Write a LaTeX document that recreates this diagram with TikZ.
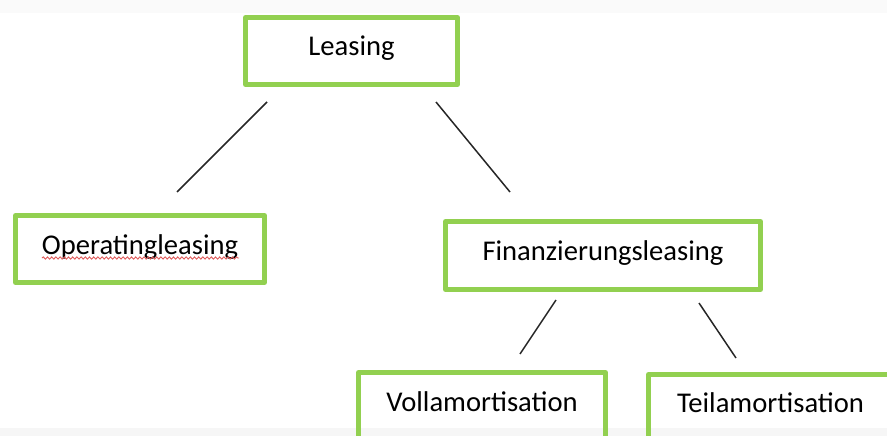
\documentclass[tikz,border=0pt]{standalone}
\usepackage{fontspec}
\setmainfont{Carlito}
\usetikzlibrary{decorations.pathmorphing}

\definecolor{boxgreen}{HTML}{92D050}
\definecolor{linegray}{HTML}{262626}
\definecolor{spellred}{HTML}{E05A5A}
\definecolor{bandtop}{HTML}{FAFAFA}
\definecolor{bandbottom}{HTML}{F6F6F6}

\tikzset{
  box/.style={draw=boxgreen, line width=5pt, line join=round, rectangle,
              inner sep=0pt, outer sep=0pt,
              font=\fontsize{28.6}{34}\selectfont,
              text height=20pt, text depth=10pt},
  boxlabel/.style={inner sep=0pt, font=\fontsize{28.6}{34}\selectfont, anchor=base},
  branch/.style={draw=linegray, line width=1.5pt},
  squiggle/.style={draw=spellred, line width=0.9pt,
                   decorate, decoration={snake, segment length=4.2pt, amplitude=1.1pt}}
}

\begin{document}
\begin{tikzpicture}[x=1pt, y=-1pt]
  \useasboundingbox (0,0) rectangle (887,436);
  \clip (0,0) rectangle (887,436);

  % faint bands along the upper and lower edge
  \fill[bandtop] (0,0) rectangle (887,13);
  \fill[bandbottom] (0,428) rectangle (887,436);

  % hierarchy boxes
  \node[box, minimum width=212pt, minimum height=67pt] (leasing) at (351.5,51) {Leasing};
  \node[box, minimum width=249pt, minimum height=67pt] (operating) at (140,249) {Operatingleasing};
  \node[box, minimum width=315pt, minimum height=68pt] (finanz) at (603,255.5) {Finanzierungsleasing};

  % lower boxes run past the bottom edge
  \node[box, minimum width=247pt, minimum height=80pt] (voll) at (482,412.5) {};
  \node[boxlabel] (volltext) at ([yshift=-38.5pt]voll.north) {Vollamortisation};
  \node[box, minimum width=244pt, minimum height=80pt] (teil) at (770.5,414.5) {};
  \node[boxlabel] (teiltext) at ([yshift=-37.5pt]teil.north) {Teilamortisation};

  % spell-check underline
  \coordinate (sqA) at (42,258);
  \coordinate (sqB) at (239,258);
  \draw[squiggle] (sqA) -- (sqB);

  % connector end points
  \coordinate (c1a) at (267,102);
  \coordinate (c1b) at (177,192);
  \coordinate (c2a) at (436,102);
  \coordinate (c2b) at (510,192);
  \coordinate (c3a) at (556,300);
  \coordinate (c3b) at (520,354);
  \coordinate (c4a) at (699,303);
  \coordinate (c4b) at (736,358);

  \draw[branch] (c1a) -- (c1b);
  \draw[branch] (c2a) -- (c2b);
  \draw[branch] (c3a) -- (c3b);
  \draw[branch] (c4a) -- (c4b);
\end{tikzpicture}
\end{document}
